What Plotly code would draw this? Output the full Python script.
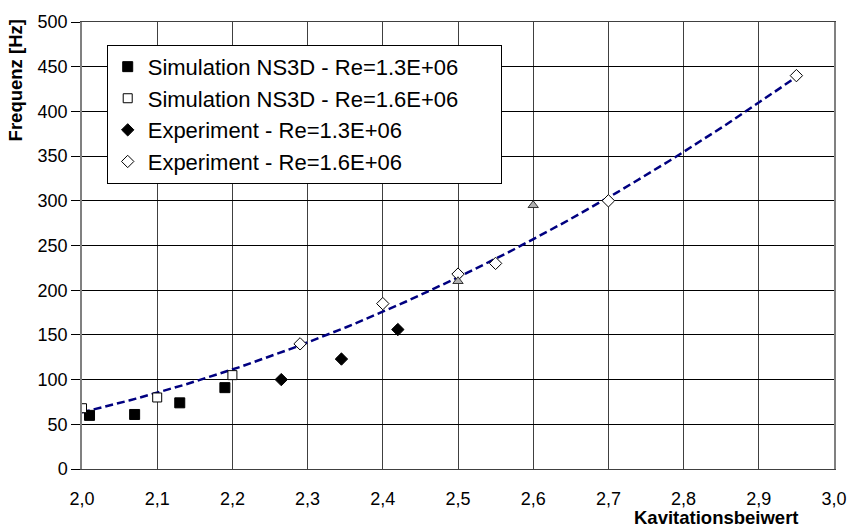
import numpy as np
import plotly.graph_objects as go

# Simulation NS3D, Re = 1.3E+06
sim13_x = [2.01, 2.07, 2.13, 2.19]
sim13_y = [60, 61, 74, 91]

# Simulation NS3D, Re = 1.6E+06
sim16_x = [2.00, 2.10, 2.20]
sim16_y = [68, 80, 105]

# Experiment, Re = 1.3E+06
exp13_x = [2.265, 2.345, 2.42]
exp13_y = [100, 123, 156]

# Experiment, Re = 1.6E+06
exp16_x = [2.29, 2.40, 2.50, 2.55, 2.70, 2.95]
exp16_y = [140, 185, 218, 230, 300, 440]

# Additional measurement points (not in legend)
extra_x = [2.50, 2.60]
extra_y = [210, 295]

x_ticks = [2.0, 2.1, 2.2, 2.3, 2.4, 2.5, 2.6, 2.7, 2.8, 2.9, 3.0]
y_ticks = [0, 50, 100, 150, 200, 250, 300, 350, 400, 450, 500]

FONT = "Liberation Sans, Arial, sans-serif"
PAD = "\u00a0" * 6  # keeps some blank room at the right of the legend box

# Quadratic trend line through all Re = 1.6E+06 points
fit_x = np.array(sim16_x + exp16_x)
fit_y = np.array(sim16_y + exp16_y)
coef = np.polyfit(fit_x, fit_y, 2)
trend_x = np.linspace(min(fit_x), max(fit_x), 120)
trend_y = np.polyval(coef, trend_x)

fig = go.Figure()

fig.add_trace(go.Scatter(
    x=trend_x, y=trend_y, mode="lines", showlegend=False,
    line=dict(color="#000080", width=2.5, dash="8px,4px"), hoverinfo="skip"))

fig.add_trace(go.Scatter(
    x=sim13_x, y=sim13_y, mode="markers",
    name="Simulation NS3D - Re=1.3E+06" + PAD,
    marker=dict(symbol="square", size=10, color="black",
                line=dict(color="black", width=1))))
fig.add_trace(go.Scatter(
    x=sim16_x, y=sim16_y, mode="markers",
    name="Simulation NS3D - Re=1.6E+06" + PAD,
    marker=dict(symbol="square", size=9, color="white",
                line=dict(color="black", width=1))))
fig.add_trace(go.Scatter(
    x=exp13_x, y=exp13_y, mode="markers", name="Experiment - Re=1.3E+06",
    marker=dict(symbol="diamond", size=9.5, color="black",
                line=dict(color="black", width=1))))
fig.add_trace(go.Scatter(
    x=exp16_x, y=exp16_y, mode="markers", name="Experiment - Re=1.6E+06",
    marker=dict(symbol="diamond", size=9.5, color="white",
                line=dict(color="black", width=1))))
fig.add_trace(go.Scatter(
    x=extra_x, y=extra_y, mode="markers", showlegend=False,
    marker=dict(symbol="triangle-up", size=9, color="#b0b0b0",
                line=dict(color="#333333", width=1))))

# Pixel geometry of the plotting area
W, H = 859, 528
M_L, M_R, M_T, M_B = 82, 16, 19, 59
plot_w = W - M_L - M_R
plot_h = H - M_T - M_B


def px_to_paper(px, py):
    return (px - M_L) / plot_w, 1 - (py - M_T) / plot_h


xt_x, xt_y = px_to_paper(724, 518)
yt_x, yt_y = px_to_paper(15, 78)
lg_x, lg_y = px_to_paper(107, 42)

fig.update_layout(
    width=W, height=H,
    margin=dict(l=M_L, r=M_R, t=M_T, b=M_B),
    paper_bgcolor="white", plot_bgcolor="white",
    separators=",.",
    font=dict(family=FONT, size=18, color="black"),
    xaxis=dict(
        range=[2.0, 3.0], tickvals=x_ticks, tickformat=".1f",
        showgrid=True, gridcolor="#404040", gridwidth=1,
        showline=True, linecolor="#404040", linewidth=1, mirror=True,
        ticks="outside", ticklen=13, tickcolor="rgba(0,0,0,0)",
        zeroline=False, tickfont=dict(size=18)),
    yaxis=dict(
        range=[0, 500], tickvals=y_ticks,
        showgrid=True, gridcolor="black", gridwidth=1,
        showline=True, linecolor="#808080", linewidth=1.5, mirror=True,
        ticks="outside", ticklen=9, tickcolor="black",
        zeroline=False, tickfont=dict(size=18)),
    legend=dict(
        x=lg_x, y=lg_y, xanchor="left", yanchor="top",
        bgcolor="white", bordercolor="black", borderwidth=1,
        font=dict(size=22, family=FONT)),
    annotations=[
        dict(text="<b>Kavitationsbeiwert</b>", x=xt_x, y=xt_y,
             xref="paper", yref="paper", xanchor="center", yanchor="middle",
             showarrow=False, font=dict(size=18.5)),
        dict(text="<b>Frequenz [Hz]</b>", x=yt_x, y=yt_y,
             xref="paper", yref="paper", xanchor="center", yanchor="middle",
             showarrow=False, textangle=-90, font=dict(size=18.5)),
    ],
)

fig.write_html("out.html")
